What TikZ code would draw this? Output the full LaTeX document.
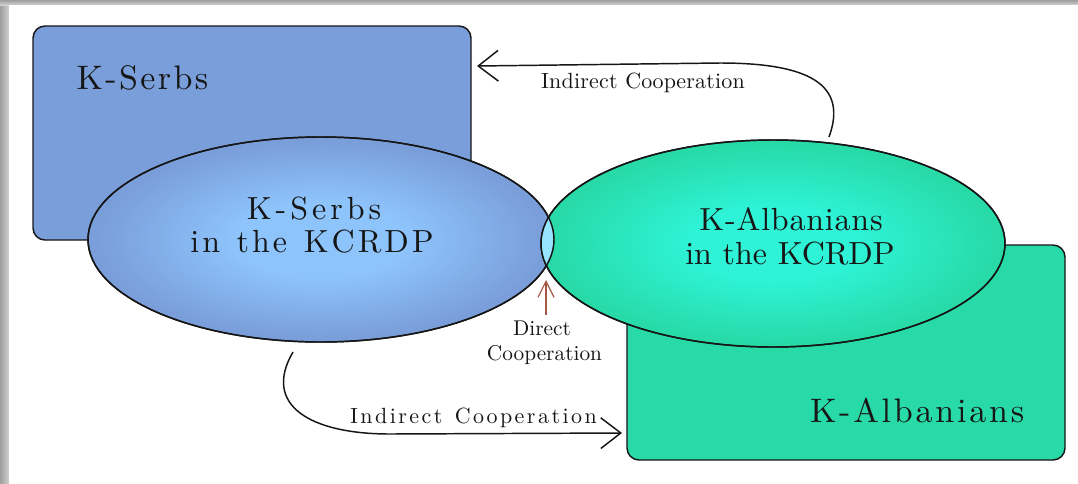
\documentclass[tikz,border=0pt]{standalone}
\usepackage{fontspec}
\setmainfont{lmroman10-regular.otf}
\usetikzlibrary{arrows.meta,shapes.geometric}

\definecolor{serbbox}{RGB}{122,158,218}
\definecolor{serbin}{RGB}{142,196,252}
\definecolor{albbox}{RGB}{40,218,168}
\definecolor{albin}{RGB}{46,243,214}
\definecolor{lensfill}{RGB}{150,228,255}
\definecolor{ink}{RGB}{22,22,22}
\definecolor{directred}{RGB}{168,86,68}

% soft glow in the middle of the two ovals
\pgfdeclareradialshading{serbglow}{\pgfpoint{0bp}{0bp}}{color(0bp)=(serbin); color(9bp)=(serbin); color(24bp)=(serbbox); color(50bp)=(serbbox)}
\pgfdeclareradialshading{albglow}{\pgfpoint{0bp}{0bp}}{color(0bp)=(albin); color(9bp)=(albin); color(24bp)=(albbox); color(50bp)=(albbox)}

% letter spacing: \ls{<extra space>}{<text>}, a kern between every two tokens
\newdimen\lsamt
\def\lsgo#1#2{#1\ifx\relax#2\else\kern\lsamt\expandafter\lsgo\expandafter#2\fi}
\newcommand\ls[2]{\lsamt=#1\relax\lsgo#2\relax}
\newcommand\sz[1]{\fontsize{#1}{1.2\dimexpr#1\relax}\selectfont}

\begin{document}
\begin{tikzpicture}[x=0.75pt,y=-0.75pt,
  groupbox/.style={draw=ink, line width=1.1pt, rounded corners=9pt, inner sep=0pt, outer sep=0pt},
  oval/.style={ellipse, draw=ink, line width=1.1pt, inner sep=0pt, outer sep=0pt, shade},
  outline/.style={draw=ink, line width=1.1pt},
  lbl/.style={text=ink, inner sep=0pt, outer sep=0pt},
  conn/.style={draw=ink, line width=1.1pt, -{Straight Barb[length=15pt,width=23pt]}},
  directarrow/.style={draw=directred, line width=0.9pt, -{Straight Barb[length=12pt,width=12pt]}}]

\useasboundingbox (0,0) rectangle (1078,483);

% page frame
\shade[left color=black!38, right color=black!18] (0,0) rectangle (9,483);
\shade[top color=black!38, bottom color=black!18] (0,0) rectangle (1078,5);
\fill[white] (9,5) rectangle (1078,483);

% group boxes
\node[groupbox, fill=serbbox, minimum width=328.5pt, minimum height=160.5pt] (serbs) at (252,133) {};
\node[groupbox, fill=albbox, minimum width=328.5pt, minimum height=161.25pt] (albs) at (846,352.5) {};

% party ovals
\node[oval, shading=serbglow, minimum width=349.5pt, minimum height=153.75pt] (serbkc) at (321,239.5) {};
\node[oval, shading=albglow, minimum width=348pt, minimum height=155.25pt] (albkc) at (773,243.5) {};

% the small overlap of the two ovals
\begin{scope}
  \clip (321,239.5) ellipse [x radius=233, y radius=102.5];
  \fill[lensfill] (773,243.5) ellipse [x radius=232, y radius=103.5];
\end{scope}
\draw[outline] (321,239.5) ellipse [x radius=233, y radius=102.5];
\draw[outline] (773,243.5) ellipse [x radius=232, y radius=103.5];

% labels
\node[lbl, anchor=base west, font=\sz{25.5pt}] (serbsT) at (76.5,89) {\ls{1.8pt}{K-Serbs}};
\node[lbl, anchor=base, font=\sz{24pt}] (serbkcA) at (314,219) {\ls{3pt}{K-Serbs}};
\node[lbl, anchor=base, font=\sz{24pt}] (serbkcB) at (312,252) {\ls{2.25pt}{in\ the\ KCRDP}};
\node[lbl, anchor=base, font=\sz{24pt}] (albkcA) at (791,230) {\ls{0.6pt}{K-Albanians}};
\node[lbl, anchor=base, font=\sz{24pt}] (albkcB) at (790,264) {in the KCRDP};
\node[lbl, anchor=base west, font=\sz{25.5pt}] (albsT) at (810,422) {\ls{2.1pt}{K-Albanians}};

\node[lbl, anchor=base west, font=\sz{16.5pt}] (topT) at (541,88) {\ls{0.15pt}{Indirect\ Cooperation}};
\node[lbl, anchor=base west, font=\sz{16.5pt}] (botT) at (350,423) {\ls{1.85pt}{Indirect\ Cooperation}};
\node[lbl, anchor=base, font=\sz{16pt}] (dirA) at (542,335) {Direct};
\node[lbl, anchor=base, font=\sz{16pt}] (dirB) at (544.5,360) {Cooperation};

% connectors
\coordinate (topStart) at (829,137);
\coordinate (topEnd) at (477,66);
\draw[conn] (topStart) .. controls (848,85) and (810,63) .. (720,63) -- (topEnd);

\coordinate (botStart) at (293,352);
\coordinate (botEnd) at (622,433);
\draw[conn] (botStart) .. controls (262,405) and (310,434) .. (390,434) -- (botEnd);

\coordinate (dirStart) at (546,315);
\coordinate (dirEnd) at (546,280);
\draw[directarrow] (dirStart) -- (dirEnd);

\end{tikzpicture}
\end{document}
